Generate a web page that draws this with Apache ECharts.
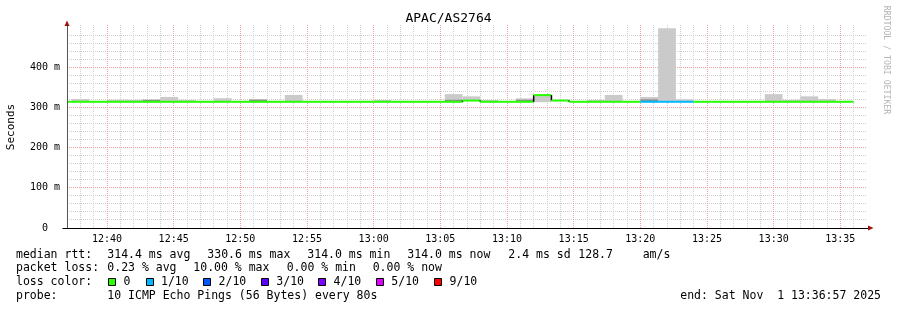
<!DOCTYPE html>
<html><head><meta charset="utf-8">
<script src="https://cdn.jsdelivr.net/npm/echarts@6/dist/echarts.min.js"></script>
<style>html,body{margin:0;padding:0;background:#fff}#c{width:897px;height:310px}</style>
</head><body><div id="c"></div>
<script>
// ---- data ----
const stepTimes = ['12:36:00','12:37:20','12:38:40','12:40:00','12:41:20','12:42:40','12:44:00','12:45:20','12:46:40','12:48:00',
  '12:49:20','12:50:40','12:52:00','12:53:20','12:54:40','12:56:00','12:57:20','12:58:40','13:00:00','13:01:20',
  '13:02:40','13:04:00','13:05:20','13:06:40','13:08:00','13:09:20','13:10:40','13:12:00','13:13:20','13:14:40',
  '13:16:00','13:17:20','13:18:40','13:20:00','13:21:20','13:22:40','13:24:00','13:25:20','13:26:40','13:28:00',
  '13:29:20','13:30:40','13:32:00','13:33:20','13:34:40'];
const medianRtt = [314,314,314,314,314,314,314,314,314,314, 314,314,314,314,314,314,314,314,314,314,
  314,314,314,317,314,314,314,330.6,317,314, 314,314,314,314,314,314,314,314,314,314, 314,314,314,314,314];
const lossCount = [0,0,0,0,0,0,0,0,0,0, 0,0,0,0,0,0,0,0,0,0, 0,0,0,0,0,0,0,0,0,0, 0,0,0,1,1,1,0,0,0,0, 0,0,0,0,0];
const smokeMin = [313,313,313,313,313,313,313,313,313,313, 313,313,313,313,313,313,313,313,313,313,
  313,313,313,316,313,313,313,313,316,313, 313,313,313,313,313,313,313,313,313,313, 313,313,313,313,313];
const smokeMax = [314,321,314,319,319,319,326,319,314,323, 314,321,314,331,314,314,314,314,318.5,314,
  314,314,333,327.5,318.5,314,322.5,331.5,317,314, 318.5,331,314,326,497,320,314,314,314,314, 333,319,327.5,321,314];
const smokeCoreMax = [null,null,null,null,null,319,null,null,null,null, null,319,null,null,null,null,null,null,null,null,
  null,null,319,null,null,null,319,null,null,null, null,null,null,320,null,null,null,null,null,null, null,null,null,null,null];
const xTickLabels = ['12:40','12:45','12:50','12:55','13:00','13:05','13:10','13:15','13:20','13:25','13:30','13:35'];
const yTickLabels = ['0','100 m','200 m','300 m','400 m'];
const lossLegend = [['0',0],['1/10',1],['2/10',2],['3/10',3],['4/10',4],['5/10',5],['9/10',9]];
const lossColors = {0:'#26ff00',1:'#00b8ff',2:'#0059ff',3:'#5e00ff',4:'#7e00ff',5:'#dd00ff',9:'#ff0000'};
const statsRtt = [['median rtt:',16],['314.4 ms avg',107.3],['330.6 ms max',207.3],['314.0 ms min',307.3],['314.0 ms now',407.3],['2.4 ms sd',508.3],['128.7',578.3],['am/s',642.7]];
const statsLoss = [['packet loss:',16],['0.23 % avg',107.3],['10.00 % max',193.3],['0.00 % min',286.7],['0.00 % now',372.7]];
const probeText = '10 ICMP Echo Pings (56 Bytes) every 80s';
const endText = 'end: Sat Nov  1 13:36:57 2025';
const titleText = 'APAC/AS2764';
const axisStart = '12:37:00', axisEnd = '13:37:00';
const yMax = 500;
const STEP = 80;

// ---- helpers ----
const toSec = s => { const p = s.split(':').map(Number); return p[0]*3600 + p[1]*60 + (p[2]||0); };
const fmtHM = v => { const h = Math.floor(v/3600), m = Math.floor((v%3600)/60); return String(h).padStart(2,'0') + ':' + String(m).padStart(2,'0'); };
const MONO = '"DejaVu Sans Mono", monospace';

const smokeData = stepTimes.map((t,i) => [toSec(t), toSec(t)+STEP, smokeMin[i], smokeMax[i]]);
const coreData = stepTimes.map((t,i) => smokeCoreMax[i] == null ? null : [toSec(t), toSec(t)+STEP, smokeMin[i], smokeCoreMax[i]]).filter(d => d);
const medData = stepTimes.map((t,i) => [toSec(t), toSec(t)+STEP, medianRtt[i], i > 0 ? medianRtt[i-1] : medianRtt[i], lossCount[i]]);

// grid lines: every minute (major every 5 min), every 20 ms (major every 100 ms)
const x0 = toSec(axisStart), x1 = toSec(axisEnd);
const vMinor = [], vMajor = [], hMinor = [], hMajor = [];
for (let t = x0 + 60; t < x1; t += 60) (t % 300 === 0 ? vMajor : vMinor).push([t, 0]);
for (let v = 20; v < yMax; v += 20) (v % 100 === 0 ? hMajor : hMinor).push([x0, v]);

function rectItem(fill) {
  return function (params, api) {
    const a = api.coord([api.value(0), api.value(3)]);
    const b = api.coord([api.value(1), api.value(2)]);
    return { type: 'rect', shape: { x: a[0], y: a[1], width: b[0]-a[0], height: b[1]-a[1] }, style: { fill: fill } };
  };
}
const crisp = v => Math.round(v - 0.5) + 0.5;
function vLine(color) {
  return function (params, api) {
    const cs = params.coordSys; const x = crisp(api.coord([api.value(0), 0])[0]);
    return { type:'line', shape:{ x1:x, y1:cs.y - 2, x2:x, y2:cs.y + cs.height }, style:{ stroke: color, lineWidth:1, lineDash:[1,1] } };
  };
}
function hLine(color) {
  return function (params, api) {
    const cs = params.coordSys; const y = crisp(api.coord([api.value(0), api.value(1)])[1]);
    return { type:'line', shape:{ x1:cs.x, y1:y, x2:cs.x + cs.width, y2:y }, style:{ stroke: color, lineWidth:1, lineDash:[1,1] } };
  };
}

const GRID_MINOR = '#cfcfcf';
const GRID_MAJOR = '#f4a0a0';

const graphics = [];
graphics.push({ type:'text', x:448.5, y:19, style:{ text:titleText, font:'13px '+MONO, fill:'#000', align:'center', verticalAlign:'middle', textAlign:'center', textVerticalAlign:'middle' } });
graphics.push({ type:'text', x:11, y:127, rotation:Math.PI/2, style:{ text:'Seconds', font:'11px '+MONO, fill:'#000', align:'center', verticalAlign:'middle', textAlign:'center', textVerticalAlign:'middle' } });
graphics.push({ type:'text', x:886, y:60, rotation:-Math.PI/2, style:{ text:'RRDTOOL / TOBI OETIKER', font:'8.2px '+MONO, fill:'#b4b4b4', align:'center', verticalAlign:'middle', textAlign:'center', textVerticalAlign:'middle' } });
// axis arrows and axis lines
graphics.push({ type:'polygon', z:100, shape:{ points:[[64.5,26],[69.5,26],[67,20.5]] }, style:{ fill:'#a01010' } });
graphics.push({ type:'polygon', z:100, shape:{ points:[[868,225.5],[868,230.5],[873.5,228]] }, style:{ fill:'#a01010' } });
graphics.push({ type:'line', z:100, shape:{ x1:62.5, y1:228.5, x2:868, y2:228.5 }, style:{ stroke:'#000', lineWidth:1 } });
graphics.push({ type:'line', z:100, shape:{ x1:67.5, y1:26, x2:67.5, y2:228 }, style:{ stroke:'#555', lineWidth:1 } });

const LEG_FONT = '11.5px ' + MONO;
function legText(text, x, y, align) {
  graphics.push({ type:'text', x:x, y:y, style:{ text:text, font:LEG_FONT, fill:'#000', align:align||'left', verticalAlign:'middle', textAlign:align||'left', textVerticalAlign:'middle' } });
}
statsRtt.forEach(s => legText(s[0], s[1], 255));
statsLoss.forEach(s => legText(s[0], s[1], 268.5));
legText('loss color:', 16, 282.5);
const boxX = [108.3,145.7,203.3,261,318.3,376,434.3];
lossLegend.forEach((l, i) => {
  graphics.push({ type:'rect', shape:{ x:Math.round(boxX[i])+0.5, y:278.5, width:7, height:7 }, style:{ fill:lossColors[l[1]], stroke:'#000', lineWidth:1 } });
  legText(l[0], boxX[i] + 15.3, 282.5);
});
legText('probe:', 16, 296.5);
legText(probeText, 107.3, 296.5);
legText(endText, 881, 296.5, 'right');

const gridSeries = (name, data, fn, color, z) => ({ type:'custom', name, clip:false, silent:true, z, encode:{ x:0, y:1 }, data, renderItem: fn(color) });

const chart = echarts.init(document.getElementById('c'), null, { renderer: 'canvas' });
chart.setOption({
  animation: false,
  backgroundColor: '#fff',
  grid: { left: 67, top: 27, width: 800, height: 201, containLabel: false },
  xAxis: {
    type: 'value', min: x0, max: x1, interval: 60,
    axisLine: { show: false }, axisTick: { show: false }, splitLine: { show: false },
    axisLabel: { margin: 6, fontFamily: MONO, fontSize: 10, color: '#000',
      formatter: v => { const s = fmtHM(v); return (v % 300 === 0 && xTickLabels.indexOf(s) >= 0) ? s : ''; } }
  },
  yAxis: {
    type: 'value', min: 0, max: yMax, interval: 100,
    axisLine: { show: false }, axisTick: { show: false }, splitLine: { show: false },
    axisLabel: { margin: 7, fontFamily: MONO, fontSize: 10, color: '#000', showMaxLabel: false,
      formatter: v => { const i = Math.round(v/100); if (v % 100 !== 0 || i >= yTickLabels.length) return ''; return i === 0 ? yTickLabels[0] + '  ' : yTickLabels[i]; } }
  },
  series: [
    gridSeries('vMinor', vMinor, vLine, GRID_MINOR, 1),
    gridSeries('hMinor', hMinor, hLine, GRID_MINOR, 1),
    gridSeries('vMajor', vMajor, vLine, GRID_MAJOR, 1.5),
    gridSeries('hMajor', hMajor, hLine, GRID_MAJOR, 1.5),
    { type: 'custom', name: 'smoke', clip: true, silent: true, renderItem: rectItem('#cacaca'), encode: { x: [0,1], y: [2,3] }, data: smokeData, z: 2 },
    { type: 'custom', name: 'smokeCore', clip: true, silent: true, renderItem: rectItem('#8e8e8e'), encode: { x: [0,1], y: [2,3] }, data: coreData, z: 3 },
    { type: 'custom', name: 'median', clip: true, silent: true, encode: { x: [0,1], y: [2,3] }, data: medData, z: 4,
      renderItem: function (params, api) {
        const s = api.value(0), e = api.value(1), m = api.value(2), pm = api.value(3), loss = api.value(4);
        const p1 = api.coord([s, m]), p2 = api.coord([e, m]);
        const children = [];
        if (pm !== m) {
          const q = api.coord([s, pm]);
          children.push({ type:'line', shape:{ x1:p1[0], y1:q[1], x2:p1[0], y2:p1[1] }, style:{ stroke:'#000', lineWidth:1.5 } });
        }
        children.push({ type:'line', shape:{ x1:p1[0], y1:p1[1], x2:p2[0], y2:p2[1] }, style:{ stroke: lossColors[loss], lineWidth: 2 } });
        return { type:'group', children: children };
      } }
  ],
  graphic: graphics
});
</script></body></html>
